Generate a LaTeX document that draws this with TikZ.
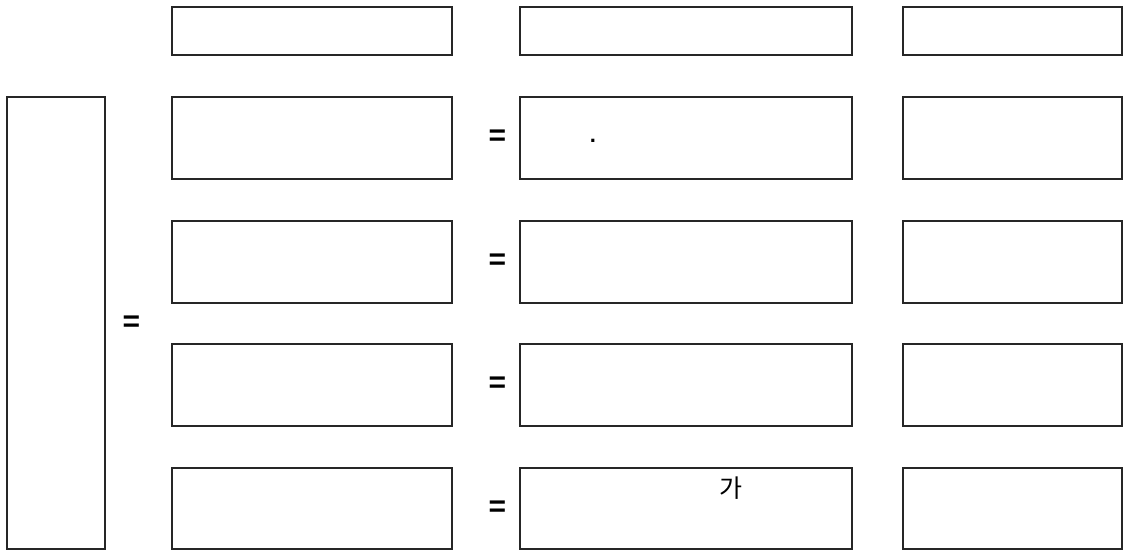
\documentclass[tikz,border=0pt]{standalone}
\usepackage{fontspec}
\setmainfont{Liberation Sans}
\newfontfamily\kor{Noto Sans CJK KR}
\begin{document}
\begin{tikzpicture}[x=1pt,y=-1pt,
  box/.style={draw=black!85,line width=1.2pt,fill=white,anchor=north west,inner sep=0pt,outer sep=0pt},
  eq/.style={font=\fontsize{30}{30}\selectfont\bfseries,inner sep=0pt}]
\useasboundingbox (0,0) rectangle (1123,550);
% left tall box
\node[box,minimum width=98pt,minimum height=452pt] (L) at (7,97) {};
% column 1
\node[box,minimum width=280pt,minimum height=48pt] (a1) at (172,7) {};
\node[box,minimum width=280pt,minimum height=82pt] (a2) at (172,97) {};
\node[box,minimum width=280pt,minimum height=82pt] (a3) at (172,221) {};
\node[box,minimum width=280pt,minimum height=82pt] (a4) at (172,344) {};
\node[box,minimum width=280pt,minimum height=81pt] (a5) at (172,468) {};
% column 2
\node[box,minimum width=332pt,minimum height=48pt] (b1) at (520,7) {};
\node[box,minimum width=332pt,minimum height=82pt] (b2) at (520,97) {};
\node[box,minimum width=332pt,minimum height=82pt] (b3) at (520,221) {};
\node[box,minimum width=332pt,minimum height=82pt] (b4) at (520,344) {};
\node[box,minimum width=332pt,minimum height=81pt] (b5) at (520,468) {};
% column 3
\node[box,minimum width=219pt,minimum height=48pt] (c1) at (903,7) {};
\node[box,minimum width=219pt,minimum height=82pt] (c2) at (903,97) {};
\node[box,minimum width=219pt,minimum height=82pt] (c3) at (903,221) {};
\node[box,minimum width=219pt,minimum height=82pt] (c4) at (903,344) {};
\node[box,minimum width=219pt,minimum height=81pt] (c5) at (903,468) {};
% equals signs
\node[eq] (e0) at (131.5,323.5) {=};
\node[eq] (e2) at (497.5,138) {=};
\node[eq] (e3) at (497.5,262) {=};
\node[eq] (e4) at (497.5,385) {=};
\node[eq] (e5) at (497.5,509) {=};
% texts
\node[inner sep=0pt,font=\fontsize{22}{22}\selectfont\bfseries] (dot) at (593,141) {.};
\node[inner sep=0pt,font=\kor\fontsize{25}{25}\selectfont] (ga) at (731,488) {가};
\end{tikzpicture}
\end{document}
